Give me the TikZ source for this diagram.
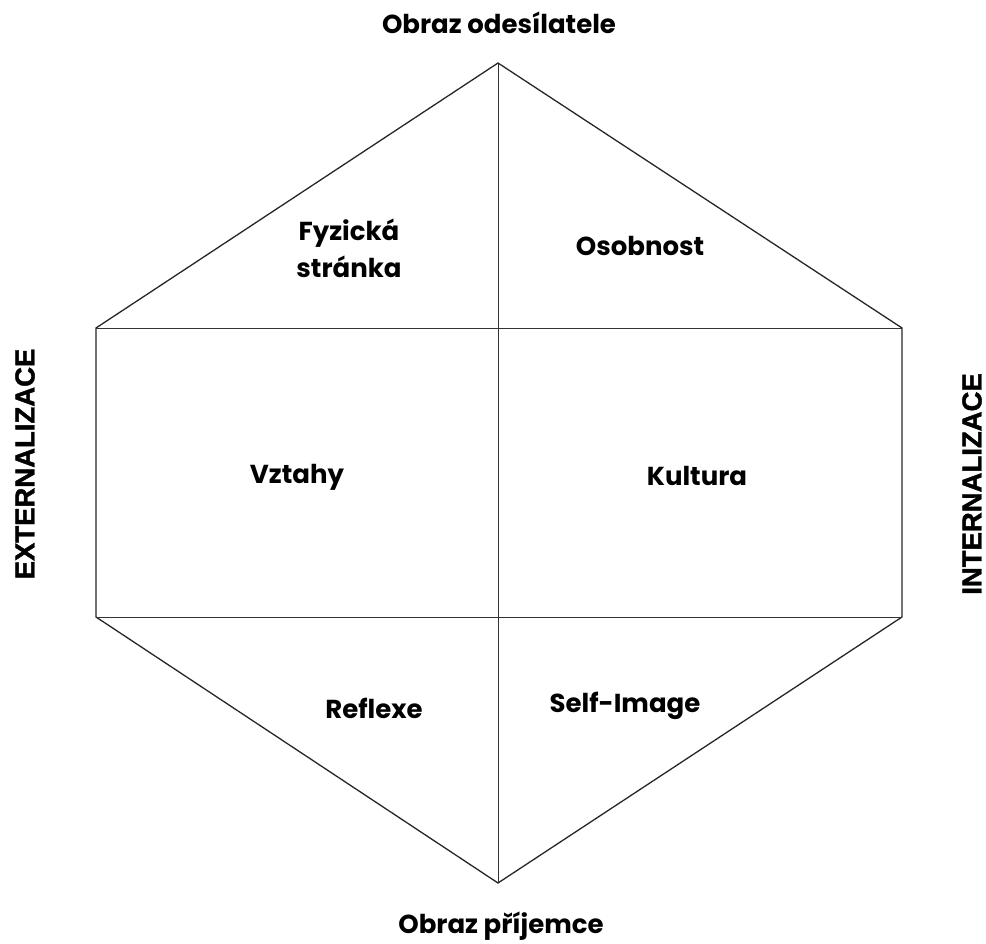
\documentclass[tikz,border=0pt]{standalone}
\usepackage{fontspec}
\setmainfont{Poppins}[BoldFont={Poppins Bold}]
\newfontfamily\sidefont{Liberation Sans Bold}[FakeBold=1.5]
\usepackage{tikz}
\usetikzlibrary{positioning,calc}

\tikzset{
  edge/.style={line width=1.3pt, draw=black!85},
  divider/.style={line width=0.9pt, draw=black!80},
  field/.style={font=\bfseries\fontsize{26}{37}\selectfont, align=center, inner sep=0pt},
  side/.style={font=\sidefont\fontsize{27.5}{32}\selectfont, rotate=90, inner sep=0pt}
}

\begin{document}
\begin{tikzpicture}[x=1pt, y=-1pt]
  \useasboundingbox (0, 0) rectangle (986, 944);

  % Corners
  \coordinate (top) at (498, 63);
  \coordinate (ul) at (96, 328);
  \coordinate (ur) at (902, 328);
  \coordinate (ll) at (96, 617);
  \coordinate (lr) at (902, 617);
  \coordinate (bottom) at (498, 883);

  % Hexagon and dividers
  \draw[edge] (top) -- (ur) -- (lr) -- (bottom) -- (ll) -- (ul) -- cycle;
  \draw[divider] (ul) -- (ur);
  \draw[divider] (ll) -- (lr);
  \draw[divider] (top) -- (bottom);

  % Poles
  \node[field] (sender) at (499, 23) {Obraz odesílatele};
  \node[field] (receiver) at (501, 926) {Obraz příjemce};
  \node[side] (ext) at (25, 464) {EXTERNALIZACE};
  \node[side] (int) at (972, 484) {INTERNALIZACE};

  % Fields
  \node[field] (physical) at (349, 248) {Fyzická\\stránka};
  \node[field] (personality) at (640, 246) {Osobnost};
  \node[field] (relations) at (297, 477) {Vztahy};
  \node[field] (culture) at (697, 476) {Kultura};
  \node[field] (reflection) at (374, 708) {Reflexe};
  \node[field] (selfimage) at (625, 706) {Self-Image};
\end{tikzpicture}
\end{document}
